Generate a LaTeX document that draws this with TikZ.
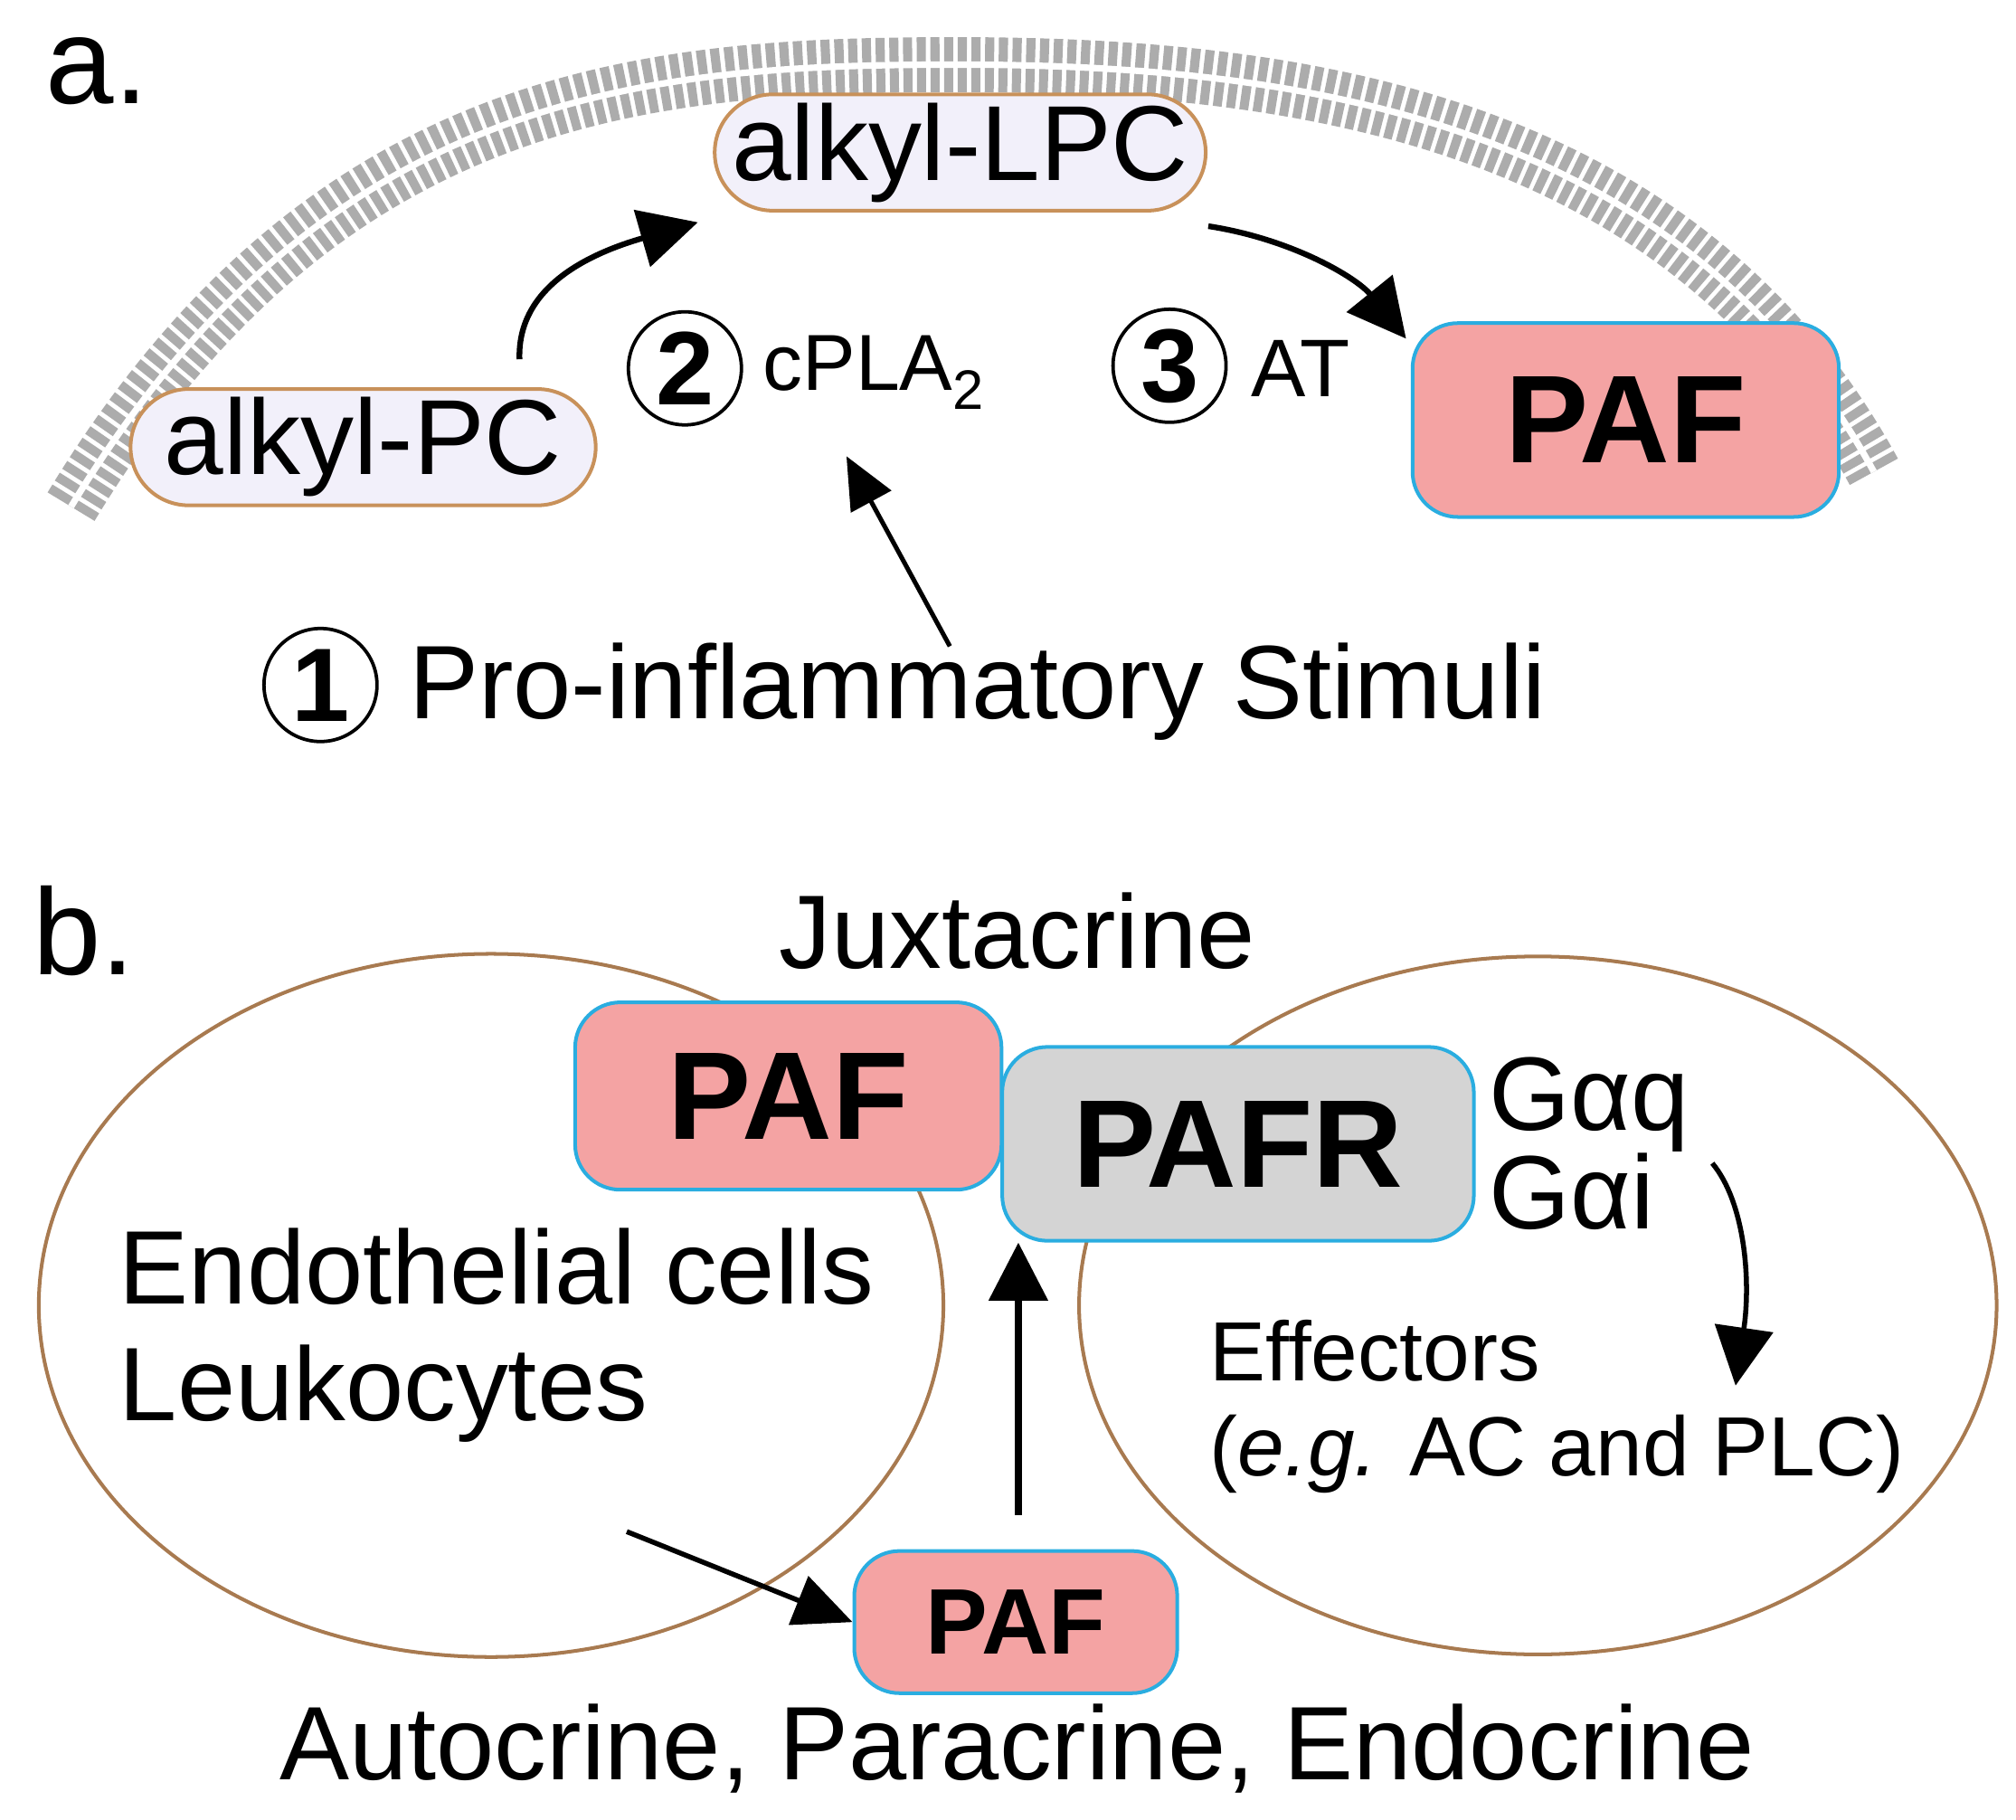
\documentclass[tikz,border=0pt]{standalone}
\usepackage{fontspec}
\setmainfont{Liberation Sans}
\usetikzlibrary{arrows.meta}
\definecolor{lav}{HTML}{F2F0FA}
\definecolor{brn}{HTML}{C8915A}
\definecolor{pafc}{HTML}{F4A3A3}
\definecolor{blu}{HTML}{2AADE0}
\definecolor{grc}{HTML}{D4D4D4}
\definecolor{ell}{HTML}{A87A50}
\newcommand{\fs}[1]{\fontsize{#1}{#1}\selectfont}
\begin{document}
\begin{tikzpicture}[x=0.02cm,y=-0.02cm,
  lip/.style={rounded corners=0.9cm,draw=brn,line width=1.6pt,fill=lav,inner sep=0pt,font=\fs{47pt}},
  paf/.style={rounded corners=0.7cm,draw=blu,line width=1.6pt,fill=pafc,inner sep=0pt,font=\fs{55pt}\bfseries},
  circ/.style={circle,draw,line width=1.5pt,inner sep=0pt,minimum size=1.75cm,font=\fs{46pt}\bfseries},
  big/.style={-{Triangle[length=0.9cm,width=0.9cm]},line width=2.5pt},
  lbl/.style={font=\fs{46pt},inner sep=0pt}]
\useasboundingbox (0,0) rectangle (1560,1408);
% membrane
\draw[gray!65,line width=0.85cm,dash pattern=on 4pt off 2pt]
  (55,392) .. controls (250,70) and (500,50) .. (740,50) .. controls (1000,50) and (1300,90) .. (1450,365);
\draw[white,line width=0.1cm]
  (55,392) .. controls (250,70) and (500,50) .. (740,50) .. controls (1000,50) and (1300,90) .. (1450,365);
\node[lbl,font=\fs{54pt}] (la) at (75,55) {a.};
\node[lip,minimum width=7.6cm,minimum height=1.8cm] (lpc) at (743,118) {alkyl-LPC};
\node[lip,minimum width=7.2cm,minimum height=1.8cm] (pc) at (281,346) {alkyl-PC};
\node[paf,minimum width=6.6cm,minimum height=3cm] (paf1) at (1258,325) {PAF};
\node[circ] (c2) at (530,285) {2};
\node[lbl,anchor=west,font=\fs{35pt}] (cpla) at (590,288) {cPLA\textsubscript{2}};
\node[circ] (c3) at (905,283) {3};
\node[lbl,anchor=west,font=\fs{36pt}] (at) at (968,285) {AT};
\coordinate (s1) at (402,278);
\draw[big] (s1) .. controls (400,220) and (460,195) .. (540,172);
\coordinate (s2) at (935,175);
\draw[big] (s2) .. controls (1000,185) and (1050,215) .. (1088,262);
\coordinate (s3) at (735,500);
\draw[-{Triangle[length=0.8cm,width=0.7cm]},line width=2pt] (s3) -- (655,353);
\node[circ] (c1) at (248,530) {1};
\node[lbl,anchor=west] (stim) at (316,535) {Pro-inflammatory Stimuli};
% b
\node[lbl,font=\fs{54pt}] (lb) at (65,720) {b.};
\draw[ell,line width=1.6pt] (380,1010) ellipse [x radius=350,y radius=272];
\draw[ell,line width=1.6pt] (1190,1010) ellipse [x radius=355,y radius=270];
\node[lbl] (jux) at (787,720) {Juxtacrine};
\node[paf,minimum width=6.6cm,minimum height=2.9cm] (paf2) at (610,848) {PAF};
\node[paf,fill=grc,minimum width=7.3cm,minimum height=3cm] (pafr) at (958,885) {PAFR};
\node[lbl,anchor=west] (gq) at (1152,855) {Gαq};
\node[lbl,anchor=west] (gi) at (1152,922) {Gαi};
\node[lbl,anchor=west] (endo) at (92,980) {Endothelial cells};
\node[lbl,anchor=west] (leuk) at (92,1078) {Leukocytes};
\node[lbl,anchor=west,font=\fs{37pt}] (eff) at (936,1045) {Effectors};
\node[lbl,anchor=west,font=\fs{37pt}] (eg) at (936,1125) {(\textit{e.g.} AC and PLC)};
\node[paf,minimum width=5cm,minimum height=2.2cm,font=\fs{41pt}\bfseries] (paf3) at (786,1255) {PAF};
\coordinate (s4) at (1325,900);
\draw[big,line width=2.2pt] (s4) .. controls (1350,930) and (1355,990) .. (1343,1072);
\coordinate (s5) at (788,1172);
\draw[big,line width=3pt] (s5) -- (pafr.south -| s5);
\coordinate (s6) at (485,1185);
\draw[-{Triangle[length=0.9cm,width=0.8cm]},line width=2.2pt] (s6) -- (paf3.west);
\node[lbl] (auto) at (787,1353) {Autocrine, Paracrine, Endocrine};
\end{tikzpicture}
\end{document}
